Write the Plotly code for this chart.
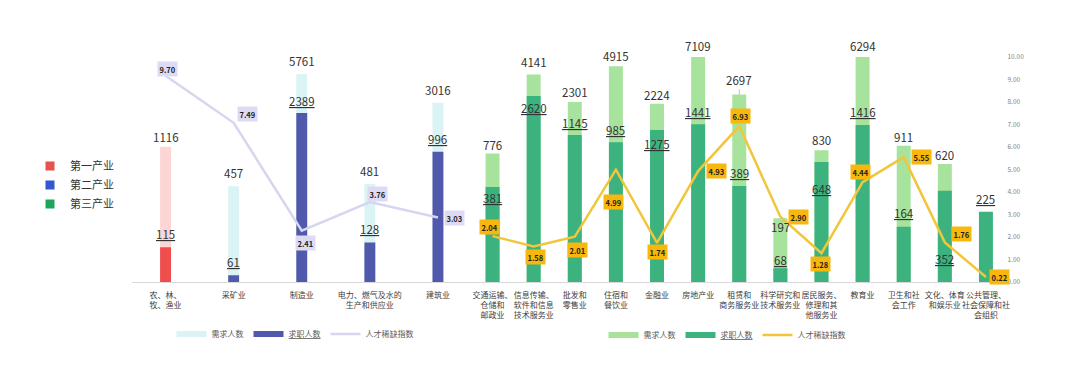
import math
import plotly.graph_objects as go

# ---------------- data ----------------
left_keys = ["农林牧渔业", "采矿业", "制造业", "电力燃气水", "建筑业"]
left_ticks = ["农、林、<br>牧、渔业", "采矿业", "制造业", "电力、燃气及水的<br>生产和供应业", "建筑业"]
left_demand = [1116, 457, 5761, 481, 3016]
left_supply = [115, 61, 2389, 128, 996]
left_index = [9.70, 7.49, 2.41, 3.76, 3.03]

right_keys = ["交通运输", "信息传输", "批发零售", "住宿餐饮", "金融业", "房地产业", "租赁商务",
              "科学研究", "居民服务", "教育业", "卫生社会", "文化体育", "公共管理"]
right_ticks = ["交通运输、<br>仓储和<br>邮政业", "信息传输、<br>软件和信息<br>技术服务业", "批发和<br>零售业",
               "住宿和<br>餐饮业", "金融业", "房地产业", "租赁和<br>商务服务业", "科学研究和<br>技术服务业",
               "居民服务、<br>修理和其<br>他服务业", "教育业", "卫生和社<br>会工作", "文化、体育<br>和娱乐业",
               "公共管理、<br>社会保障和社<br>会组织"]
right_demand = [776, 4141, 2301, 4915, 2224, 7109, 2697, 197, 830, 6294, 911, 620, 50]
right_supply = [381, 2620, 1145, 985, 1275, 1441, 389, 68, 648, 1416, 164, 352, 225]
right_index = [2.04, 1.58, 2.01, 4.99, 1.74, 4.93, 6.93, 2.90, 1.28, 4.44, 5.55, 1.76, 0.22]

industry_names = ["第一产业", "第二产业", "第三产业"]
series_names = ["需求人数", "求职人数", "人才稀缺指数"]

# ---------------- styles / positions ----------------
FONT = "Noto Sans CJK SC, Noto Sans, sans-serif"
PINK, RED = "#fdd5d5", "#f04d4d"
CYAN, BLUE = "#daf3f5", "#5159ac"
LGREEN, GREEN = "#a7e39d", "#3cb37e"
LAV, LAV_BG = "#d7d5f0", "#dddbf3"
YEL, YEL_BG = "#f2c63c", "#f7b70c"
TXT = "#333333"

# page body has an 8px margin; the figure is sized to fit inside the window
OFF, W, H = 8, 1064, 351


def fx(px):
    return (px - OFF) / W


def fy(py):
    return 1 - (py - OFF) / H


L_RANGE = [1.719, 3.929]
R_RANGE = [1.707, 3.777]
Y_DOM = [fy(282), fy(57)]

left_idx_shift = [(2, 7), (14, 9), (4, -12), (8, 8), (17, 0)]
right_idx_shift = [(-3, 9), (2, -11), (3, -13), (-2, -32), (0, -9), (18, 0), (1, 10),
                   (18, 0), (-1, -11), (-2, 10), (18, 0), (17, 8), (14, 0)]
left_dem_dy = [10, 13, 13, 13, 13]
left_sup_dy = [13, 13, 12, 13, 13]
right_dem_dy = [8, 12, 10, 10, 9, 11, 15, -9, 10, 11, 9, 9, 19]
right_sup_dy = [-11, -12, 12, 12, -14, 12, 13, 8, -27, 13, 14, -68, 13]

fig = go.Figure()

# left panel bars
fig.add_trace(go.Bar(x=left_keys, y=left_demand, width=0.16,
                     marker=dict(color=[PINK] + [CYAN] * 4, line=dict(width=0)),
                     xaxis="x", yaxis="y", showlegend=False, hoverinfo="skip"))
fig.add_trace(go.Bar(x=left_keys, y=left_supply, width=0.16,
                     marker=dict(color=[RED] + [BLUE] * 4, line=dict(width=0)),
                     xaxis="x", yaxis="y", showlegend=False, hoverinfo="skip"))
# right panel bars
fig.add_trace(go.Bar(x=right_keys, y=right_demand, width=0.34,
                     marker=dict(color=LGREEN, line=dict(width=0)),
                     xaxis="x2", yaxis="y3", showlegend=False, hoverinfo="skip"))
fig.add_trace(go.Bar(x=right_keys, y=right_supply, width=0.34,
                     marker=dict(color=GREEN, line=dict(width=0)),
                     xaxis="x2", yaxis="y3", showlegend=False, hoverinfo="skip"))

# legend proxies (left)
fig.add_trace(go.Scatter(x=[None], y=[None], mode="lines", line=dict(color=CYAN, width=6),
                         name=series_names[0], xaxis="x", yaxis="y2", legend="legend"))
fig.add_trace(go.Scatter(x=[None], y=[None], mode="lines", line=dict(color=BLUE, width=6),
                         name="<u>" + series_names[1] + "</u>", xaxis="x", yaxis="y2", legend="legend"))
fig.add_trace(go.Scatter(x=left_keys, y=left_index, mode="lines", line=dict(color=LAV, width=2.5),
                         name=series_names[2], xaxis="x", yaxis="y2", legend="legend", hoverinfo="skip"))
# legend proxies (right)
fig.add_trace(go.Scatter(x=[None], y=[None], mode="lines", line=dict(color=LGREEN, width=6),
                         name=series_names[0], xaxis="x2", yaxis="y4", legend="legend2"))
fig.add_trace(go.Scatter(x=[None], y=[None], mode="lines", line=dict(color=GREEN, width=6),
                         name="<u>" + series_names[1] + "</u>", xaxis="x2", yaxis="y4", legend="legend2"))
fig.add_trace(go.Scatter(x=right_keys, y=right_index, mode="lines", line=dict(color=YEL, width=2.5),
                         name=series_names[2], xaxis="x2", yaxis="y4", legend="legend2", hoverinfo="skip"))
# industry legend
for nm, col in zip(industry_names, ["#e8524c", "#3456d1", "#1aa65c"]):
    fig.add_trace(go.Scatter(x=[None], y=[None], mode="markers",
                             marker=dict(symbol="square", size=9, color=col),
                             name=nm, xaxis="x", yaxis="y2", legend="legend3"))

NUMF = dict(size=11.5, color=TXT)
IDXF = dict(size=7.5, color="#1f1f1f")
ann = []
# left labels
for i, k in enumerate(left_keys):
    d, s = left_demand[i], left_supply[i]
    ann.append(dict(x=k, y=min(math.log10(d), L_RANGE[1]), xref="x", yref="y", text=str(d),
                    showarrow=False, yshift=left_dem_dy[i], font=NUMF))
    ann.append(dict(x=k, y=math.log10(s), xref="x", yref="y", text="<u>%d</u>" % s,
                    showarrow=False, yshift=left_sup_dy[i], font=NUMF))
    dx, dy = left_idx_shift[i]
    ann.append(dict(x=k, y=left_index[i], xref="x", yref="y2", text="<b>%.2f</b>" % left_index[i],
                    showarrow=False, xshift=dx, yshift=dy, bgcolor=LAV_BG, borderpad=1.5,
                    font=IDXF))
# right labels
for i, k in enumerate(right_keys):
    d, s = right_demand[i], right_supply[i]
    yd = min(math.log10(d), R_RANGE[1])
    if i == 6:
        ann.append(dict(x=k, y=yd, xref="x2", yref="y3", text=str(d), showarrow=True,
                        arrowhead=0, arrowwidth=1, arrowcolor="#c0c0c0", ax=0, ay=-right_dem_dy[i],
                        font=NUMF))
    else:
        ann.append(dict(x=k, y=yd, xref="x2", yref="y3", text=str(d),
                        showarrow=False, yshift=right_dem_dy[i], font=NUMF))
    ann.append(dict(x=k, y=math.log10(s), xref="x2", yref="y3", text="<u>%d</u>" % s,
                    showarrow=False, yshift=right_sup_dy[i], font=NUMF))
    dx, dy = right_idx_shift[i]
    ann.append(dict(x=k, y=right_index[i], xref="x2", yref="y4", text="<b>%.2f</b>" % right_index[i],
                    showarrow=False, xshift=dx, yshift=dy, bgcolor=YEL_BG, borderpad=1.5,
                    font=IDXF))

xcommon = dict(type="category", showline=True, linecolor="#d9d9d9", linewidth=1, ticks="",
               showgrid=False, zeroline=False, tickfont=dict(size=8, color="#404040"),
               tickangle=0, ticklabelstandoff=5, fixedrange=True)

fig.update_layout(
    width=W, height=H,
    template="none",
    paper_bgcolor="white", plot_bgcolor="rgba(0,0,0,0)",
    margin=dict(l=0, r=0, t=0, b=0),
    font=dict(family=FONT, color=TXT),
    barmode="overlay",
    xaxis=dict(xcommon, domain=[fx(131.5), fx(472)], anchor="y", range=[-0.5, 4.5],
               tickmode="array", tickvals=left_keys, ticktext=left_ticks),
    xaxis2=dict(xcommon, domain=[fx(472), fx(1006.5)], anchor="y3", range=[-0.5, 12.5],
                tickmode="array", tickvals=right_keys, ticktext=right_ticks),
    yaxis=dict(domain=Y_DOM, type="log", range=L_RANGE, visible=False, anchor="x", fixedrange=True),
    yaxis2=dict(overlaying="y", anchor="x", range=[0, 225 / 21.26], visible=False, fixedrange=True),
    yaxis3=dict(domain=Y_DOM, type="log", range=R_RANGE, visible=False, anchor="x2", fixedrange=True),
    yaxis4=dict(overlaying="y3", anchor="x2", side="right", range=[0, 10], dtick=1,
                tickformat=".2f", showgrid=False, zeroline=False, showline=False, ticks="",
                tickfont=dict(size=6.5, color="#7f7f7f"), fixedrange=True),
    legend=dict(orientation="h", x=fx(295), xanchor="center", y=fy(334), yanchor="middle",
                font=dict(size=8, color="#595959"), bgcolor="rgba(0,0,0,0)", itemwidth=30),
    legend2=dict(orientation="h", x=fx(727), xanchor="center", y=fy(335), yanchor="middle",
                 font=dict(size=8, color="#595959"), bgcolor="rgba(0,0,0,0)", itemwidth=30),
    legend3=dict(orientation="v", x=fx(30), xanchor="left", y=fy(185), yanchor="middle",
                 font=dict(size=11, color="#333333"), bgcolor="rgba(0,0,0,0)", itemwidth=30),
    annotations=ann,
)

fig.write_html("out.html")
